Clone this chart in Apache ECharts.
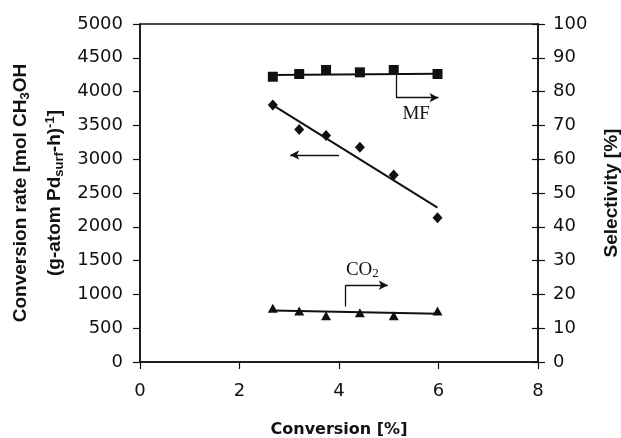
<!DOCTYPE html>
<html>
<head>
<meta charset="utf-8">
<script src="https://cdn.jsdelivr.net/npm/echarts@6/dist/echarts.min.js"></script>
<style>
html, body { margin: 0; padding: 0; background: #fff; }
#chart { width: 621px; height: 438px; }
</style>
</head>
<body>
<div id="chart"></div>
<script>
// conversion [%] of each run
var conversion = [2.67, 3.2, 3.74, 4.42, 5.1, 5.98];
// conversion rate, left axis
var rateValues = [3800, 3440, 3350, 3175, 2765, 2135];
// selectivity [%], right axis
var mfValues = [84.4, 85.2, 86.4, 85.7, 86.4, 85.2];
var co2Values = [15.9, 15.1, 13.7, 14.6, 13.7, 15.1];
// trend lines (end points)
var rateFit = [[2.67, 3800], [5.98, 2283]];
var mfFit = [[2.67, 84.9], [5.98, 85.3]];
var co2Fit = [[2.67, 15.2], [5.98, 14.3]];
// axis ticks
var xTicks = [0, 2, 4, 6, 8];
var leftTicks = [0, 500, 1000, 1500, 2000, 2500, 3000, 3500, 4000, 4500, 5000];
var rightTicks = [0, 10, 20, 30, 40, 50, 60, 70, 80, 90, 100];

var INK = '#111';
var SANS = 'Liberation Sans, Arial, sans-serif';
// the scan is a bit wide, so horizontal text uses the wider DejaVu face
var WIDE = 'DejaVu Sans, Verdana, sans-serif';
var SERIF = 'Liberation Serif, Times New Roman, serif';

function zip(xs, ys) {
    var out = [];
    for (var i = 0; i < xs.length; i++) {
        out.push([xs[i], ys[i]]);
    }
    return out;
}

// tiny shallow merge
function $extend(a, b) {
    for (var k in b) { a[k] = b[k]; }
    return a;
}

function plainLabel(margin) {
    return {
        color: INK, fontSize: 18, fontFamily: WIDE, margin: margin,
        formatter: function (v) { return String(v); }
    };
}

function valueAxis(ticks, opt) {
    var base = {
        type: 'value',
        min: ticks[0],
        max: ticks[ticks.length - 1],
        interval: ticks[1] - ticks[0],
        splitLine: { show: false },
        axisLine: { show: true, lineStyle: { color: INK, width: 1.5 } },
        axisTick: { show: true, length: 7, lineStyle: { color: INK, width: 1.2 } },
        axisLabel: plainLabel(8)
    };
    return $extend(base, opt);
}

var richName = {
    b: { fontSize: 19, fontWeight: 'bold', fontFamily: SANS, color: INK, lineHeight: 34 },
    sub: { fontSize: 13, fontWeight: 'bold', fontFamily: SANS, color: INK, lineHeight: 34, padding: [10, 0, 0, 0] },
    sup: { fontSize: 13, fontWeight: 'bold', fontFamily: SANS, color: INK, lineHeight: 34, padding: [0, 0, 9, 0] }
};

var arrowLine = { color: INK, width: 1.3, type: 'solid' };
var solid = { color: INK, opacity: 1 };

var option = {
    backgroundColor: '#fff',
    animation: false,
    grid: {
        left: 140, right: 83, top: 24, bottom: 76,
        containLabel: false, outerBoundsMode: 'none',
        show: true, borderColor: INK, borderWidth: 1.5
    },
    xAxis: valueAxis(xTicks, {
        name: 'Conversion [%]',
        nameLocation: 'middle',
        nameGap: 60,
        nameTextStyle: { fontSize: 16, fontWeight: 'bold', fontFamily: WIDE, color: INK },
        axisLabel: plainLabel(20)
    }),
    yAxis: [
        valueAxis(leftTicks, {
            position: 'left',
            name: '{b|Conversion rate [mol CH}{sub|3}{b|OH}\n{b|(g-atom Pd}{sub|surf}{b|-h)}{sup|-1}{b|]}',
            nameLocation: 'middle',
            nameRotate: 90,
            nameGap: 67,
            nameTextStyle: { rich: richName },
            axisLabel: plainLabel(17)
        }),
        valueAxis(rightTicks, {
            position: 'right',
            name: 'Selectivity [%]',
            nameLocation: 'middle',
            nameRotate: 90,
            nameGap: 64,
            nameTextStyle: { fontSize: 19, fontWeight: 'bold', fontFamily: SANS, color: INK },
            axisLabel: plainLabel(15)
        }),
        // inner half of the crossing ticks on the right axis
        valueAxis(rightTicks, {
            position: 'right',
            axisLine: { show: false },
            axisLabel: { show: false },
            axisTick: { show: true, inside: true, length: 6, lineStyle: { color: INK, width: 1.2 } }
        })
    ],
    series: [
        {
            name: 'rate fit', type: 'line', yAxisIndex: 0, data: rateFit,
            symbol: 'none', lineStyle: { color: INK, width: 2 },
            markLine: {
                silent: true, animation: false,
                symbol: ['none', 'arrow'], symbolSize: [7, 9],
                label: { show: false }, lineStyle: arrowLine,
                data: [[{ coord: [4.0, 3062] }, { coord: [3.02, 3062] }]]
            }
        },
        {
            name: 'MF fit', type: 'line', yAxisIndex: 1, data: mfFit,
            symbol: 'none', lineStyle: { color: INK, width: 2 },
            markLine: {
                silent: true, animation: false,
                symbol: ['none', 'none'], symbolSize: [7, 9],
                label: { show: false }, lineStyle: arrowLine,
                data: [
                    [{ coord: [5.15, 86.4] }, { coord: [5.15, 78.2] }],
                    [{ coord: [5.15, 78.2] }, { coord: [6.0, 78.2], symbol: 'arrow' }]
                ]
            },
            markPoint: {
                silent: true, symbol: 'circle', symbolSize: 1, itemStyle: { color: 'transparent' },
                data: [{ coord: [5.55, 73.5], label: { show: true, position: 'inside', formatter: 'MF', fontFamily: SERIF, fontSize: 19, color: INK } }]
            }
        },
        {
            name: 'CO2 fit', type: 'line', yAxisIndex: 1, data: co2Fit,
            symbol: 'none', lineStyle: { color: INK, width: 2 },
            markLine: {
                silent: true, animation: false,
                symbol: ['none', 'none'], symbolSize: [7, 9],
                label: { show: false }, lineStyle: arrowLine,
                data: [
                    [{ coord: [4.13, 16.4] }, { coord: [4.13, 22.7] }],
                    [{ coord: [4.13, 22.7] }, { coord: [4.98, 22.7], symbol: 'arrow' }]
                ]
            },
            markPoint: {
                silent: true, symbol: 'circle', symbolSize: 1, itemStyle: { color: 'transparent' },
                data: [{
                    coord: [4.47, 27.2],
                    label: {
                        show: true, position: 'inside', formatter: '{a|CO}{s|2}',
                        rich: {
                            a: { fontFamily: SERIF, fontSize: 19, color: INK, lineHeight: 22 },
                            s: { fontFamily: SERIF, fontSize: 13, color: INK, lineHeight: 22, padding: [8, 0, 0, 0] }
                        }
                    }
                }]
            }
        },
        {
            name: 'Conversion rate', type: 'scatter', yAxisIndex: 0, data: zip(conversion, rateValues),
            symbol: 'diamond', symbolSize: [10, 11], itemStyle: solid
        },
        {
            name: 'MF', type: 'scatter', yAxisIndex: 1, data: zip(conversion, mfValues),
            symbol: 'rect', symbolSize: 10, itemStyle: solid
        },
        {
            name: 'CO2', type: 'scatter', yAxisIndex: 1, data: zip(conversion, co2Values),
            symbol: 'triangle', symbolSize: [10, 9], itemStyle: solid
        }
    ]
};

var myChart = echarts.init(document.getElementById('chart'), null, { renderer: 'canvas' });
myChart.setOption(option);
</script>
</body>
</html>
